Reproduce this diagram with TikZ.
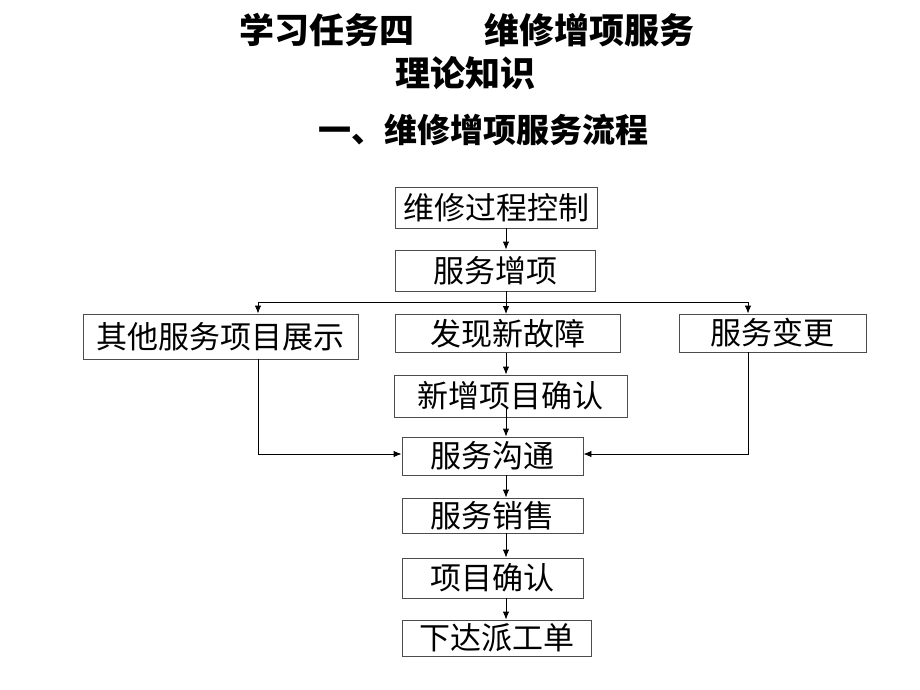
\documentclass[tikz,border=0pt]{standalone}
\usepackage{fontspec}
\newfontfamily\cjk{Noto Sans CJK SC}
\usetikzlibrary{arrows.meta,calc}
\begin{document}
\begin{tikzpicture}[x=1pt,y=-1pt,
  box/.style={draw=black!70,line width=0.9pt,inner sep=0pt,anchor=center,
    font=\cjk\fontsize{31}{33}\selectfont},
  title/.style={font=\cjk\bfseries\fontsize{35}{38}\selectfont,inner sep=0pt},
  link/.style={draw=black,line width=0.9pt},
  arr/.style={link,-{Latex[length=8pt,width=6.5pt]}}]
\path[use as bounding box,fill=white] (0,0) rectangle (920,690);

\node[title] (t1) at (467,30) {学习任务四\hspace{2em}维修增项服务};
\node[title] (t2) at (465,73) {理论知识};
\node[title,font=\cjk\bfseries\fontsize{33}{36}\selectfont] (t3) at (483,130) {一、维修增项服务流程};

\node[box,minimum width=202pt,minimum height=41pt] (n1) at (496,207.5) {\raisebox{-5pt}{维修过程控制}};
\node[box,minimum width=200pt,minimum height=41pt] (n2) at (495,270.5) {\raisebox{-5.5pt}{服务增项}};
\node[box,minimum width=275pt,minimum height=45pt] (n3) at (220.5,336.5) {\raisebox{-4pt}{其他服务项目展示}};
\node[box,minimum width=225pt,minimum height=38pt] (n4) at (507.5,333.5) {\raisebox{-5pt}{发现新故障}};
\node[box,minimum width=187pt,minimum height=38pt] (n5) at (772.5,333) {\raisebox{-5pt}{服务变更}};
\node[box,minimum width=233pt,minimum height=42pt] (n6) at (510.5,396) {\raisebox{-5pt}{新增项目确认}};
\node[box,minimum width=181pt,minimum height=38pt] (n7) at (492.5,456) {\raisebox{-4pt}{服务沟通}};
\node[box,minimum width=181pt,minimum height=35pt] (n8) at (492.5,515.5) {\raisebox{-5pt}{服务销售}};
\node[box,minimum width=181pt,minimum height=40pt] (n9) at (492.5,578) {\raisebox{-5pt}{项目确认}};
\node[box,minimum width=189pt,minimum height=36pt] (n10) at (496.5,638) {\raisebox{-7pt}{下达派工单}};

\coordinate (vx) at (506,0);
\coordinate (lx) at (258,0);
\coordinate (rx) at (748,0);
\coordinate (hub) at (506,302);

\draw[arr] (n1.south -| vx) -- (n2.north -| vx);
\draw[link] (n2.south -| vx) -- (hub);
\draw[arr] (hub) -| (n3.north -| lx);
\draw[arr] (hub) -| (n5.north -| rx);
\draw[arr] (hub) -- (n4.north -| vx);
\draw[arr] (n4.south -| vx) -- (n6.north -| vx);
\draw[arr] ($(n6.south -| vx)+(0,-10)$) -- (n7.north -| vx);
\draw[arr] (n7.south -| vx) -- (n8.north -| vx);
\draw[arr] (n8.south -| vx) -- (n9.north -| vx);
\draw[arr] (n9.south -| vx) -- (n10.north -| vx);
\draw[arr] (n3.south -| lx) |- ($(n7.west)+(0,-2)$);
\draw[arr] (n5.south -| rx) |- ($(n7.east)+(0,-2)$);
\end{tikzpicture}
\end{document}
